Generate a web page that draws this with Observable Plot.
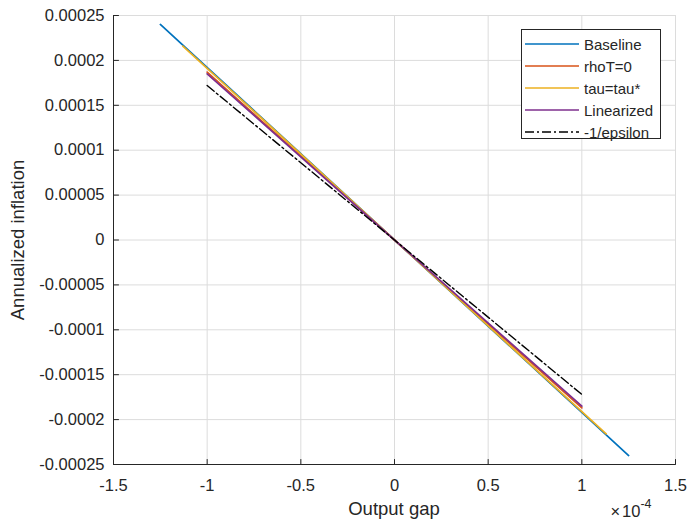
<!DOCTYPE html>
<html>
<head>
<meta charset="utf-8">
<script src="https://cdn.jsdelivr.net/npm/d3@7"></script>
<script src="https://cdn.jsdelivr.net/npm/@observablehq/plot@0.6"></script>
<style>
  html, body { margin: 0; padding: 0; background: #fff; }
  #wrap { position: relative; width: 691px; height: 522px; font-family: "Liberation Sans", Arial, sans-serif; }
  #legend { position: absolute; left: 521px; top: 29px; width: 138px; height: 108px; border: 1px solid #262626; background: #fff; box-sizing: content-box; }
  #legend .row { position: absolute; left: 2px; height: 20px; display: flex; align-items: center; font-size: 15px; color: #262626; }
  #legend svg { margin-right: 4px; }
</style>
</head>
<body>
<div id="wrap"></div>
<script>
// Output gap in units of 1e-4
const xTicks = [-1.5, -1, -0.5, 0, 0.5, 1, 1.5];
const xTickLabels = ["-1.5", "-1", "-0.5", "0", "0.5", "1", "1.5"];
const yTicks = [-0.00025, -0.0002, -0.00015, -0.0001, -0.00005, 0, 0.00005, 0.0001, 0.00015, 0.0002, 0.00025];
const yTickLabels = ["-0.00025", "-0.0002", "-0.00015", "-0.0001", "-0.00005", "0", "0.00005", "0.0001", "0.00015", "0.0002", "0.00025"];

const seriesNames = ["Baseline", "rhoT=0", "tau=tau*", "Linearized", "-1/epsilon"];
const seriesColors = ["#0072BD", "#D95319", "#EDB120", "#7E2F8E", "#000000"];

const baselineX = [-1.25, 0, 1.25];
const baselineY = [0.00024, 0, -0.00024];
const rhoX = [-1, 0, 1];
const rhoY = [0.000187, 0, -0.000187];
const tauX = [-1.13, 0, 1.13];
const tauY = [0.000216, 0, -0.000216];
const linX = [-1, 0, 1];
const linY = [0.000185, 0, -0.000185];
const epsX = [-1, 0, 1];
const epsY = [0.000172, 0, -0.000172];

const xDomain = [-1.5, 1.5];
const yDomain = [-0.00025, 0.00025];

const toRows = (xs, ys) => xs.map((x, i) => ({x, y: ys[i]}));
const series = [
  toRows(baselineX, baselineY),
  toRows(rhoX, rhoY),
  toRows(tauX, tauY),
  toRows(linX, linY),
  toRows(epsX, epsY)
];

const axisColor = "#262626";
const tickShapeUp = { draw(ctx, l) { ctx.moveTo(0, 0); ctx.lineTo(0, -l); } };

const marks = [
  Plot.gridX(xTicks, {stroke: "#dcdcdc", strokeOpacity: 1, strokeWidth: 1}),
  Plot.gridY(yTicks, {stroke: "#dcdcdc", strokeOpacity: 1, strokeWidth: 1}),
  Plot.ruleX([xDomain[0]], {stroke: axisColor, strokeWidth: 1}),
  Plot.ruleY([yDomain[0]], {stroke: axisColor, strokeWidth: 1}),
  // inward tick marks
  Plot.vector(yTicks, {x: () => xDomain[0], y: d => d, length: 5, rotate: 90, anchor: "start", shape: tickShapeUp, stroke: axisColor, strokeWidth: 1}),
  Plot.vector(xTicks, {x: d => d, y: () => yDomain[0], length: 5, rotate: 0, anchor: "start", shape: tickShapeUp, stroke: axisColor, strokeWidth: 1}),
  Plot.axisX({ticks: xTicks, tickSize: 0, tickPadding: 15, tickFormat: d => xTickLabels[xTicks.indexOf(d)], fontSize: 16.5, fill: axisColor, label: null}),
  Plot.axisY({ticks: yTicks, tickSize: 0, tickPadding: 9, tickFormat: d => yTickLabels[yTicks.indexOf(d)], fontSize: 16.5, fill: axisColor, label: null}),
];
series.forEach((rows, i) => {
  const opts = {x: "x", y: "y", stroke: seriesColors[i], strokeWidth: 1.7};
  if (i === 4) { opts.strokeDasharray = "9,3,2,3"; opts.strokeWidth = 1.4; }
  marks.push(Plot.line(rows, opts));
});

const chart = Plot.plot({
  width: 691,
  height: 522,
  marginLeft: 113,
  marginRight: 16,
  marginTop: 15,
  marginBottom: 58,
  x: {domain: xDomain, axis: null},
  y: {domain: yDomain, axis: null},
  style: {fontFamily: "'Liberation Sans', Arial, sans-serif", background: "#fff", overflow: "visible"},
  marks
});

// axis titles and exponent as SVG text
const svg = d3.select(chart);
svg.append("text")
  .attr("transform", "translate(24,240) rotate(-90)")
  .attr("text-anchor", "middle")
  .attr("font-size", 18.5)
  .attr("fill", axisColor)
  .text("Annualized inflation");
svg.append("text")
  .attr("x", 394).attr("y", 515)
  .attr("text-anchor", "middle")
  .attr("font-size", 18.5)
  .attr("fill", axisColor)
  .text("Output gap");
const ex = svg.append("text")
  .attr("x", 631).attr("y", 517)
  .attr("font-size", 16.5)
  .attr("fill", axisColor);
ex.append("tspan").text("\u00d7");
ex.append("tspan").attr("dx", 2).text("10");
ex.append("tspan").attr("dy", -9).attr("font-size", 12.5).text("-4");

const wrap = document.getElementById("wrap");
wrap.appendChild(chart);

// legend
const legend = document.createElement("div");
legend.id = "legend";
seriesNames.forEach((name, i) => {
  const row = document.createElement("div");
  row.className = "row";
  row.style.top = (4 + i * 22) + "px";
  const dash = i === 4 ? 'stroke-dasharray="9,3,2,3"' : "";
  row.innerHTML = `<svg width="56" height="6"><line x1="1" x2="55" y1="3" y2="3" stroke="${seriesColors[i]}" stroke-width="1.4" ${dash}/></svg><span>${name}</span>`;
  legend.appendChild(row);
});
wrap.appendChild(legend);
</script>
</body>
</html>
